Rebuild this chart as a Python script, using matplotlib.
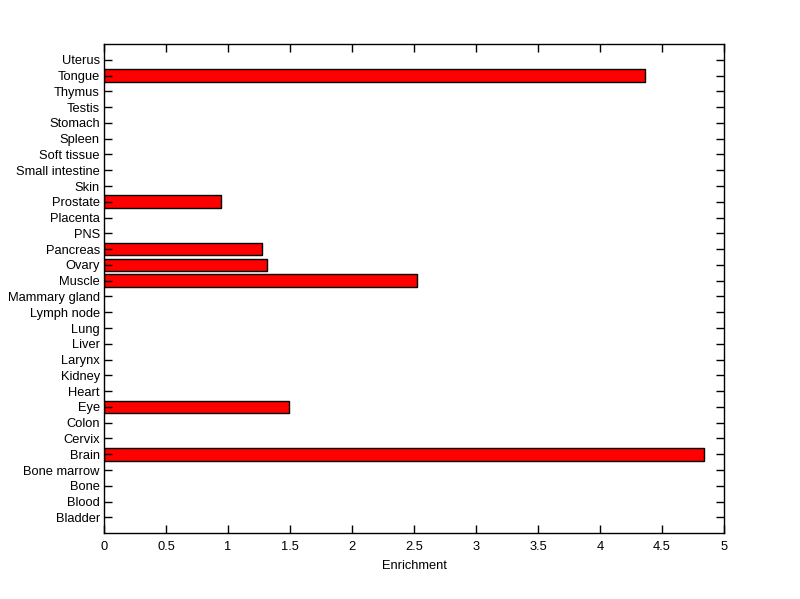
import matplotlib
matplotlib.use('Agg')
import matplotlib.pyplot as plt

tissues = ['Bladder', 'Blood', 'Bone', 'Bone marrow', 'Brain', 'Cervix', 'Colon',
           'Eye', 'Heart', 'Kidney', 'Larynx', 'Liver', 'Lung', 'Lymph node',
           'Mammary gland', 'Muscle', 'Ovary', 'Pancreas', 'PNS', 'Placenta',
           'Prostate', 'Skin', 'Small intestine', 'Soft tissue', 'Spleen',
           'Stomach', 'Testis', 'Thymus', 'Tongue', 'Uterus']
enrichment = [0, 0, 0, 0, 4.84, 0, 0,
              1.495, 0, 0, 0, 0, 0, 0,
              0, 2.527, 1.318, 1.277, 0, 0,
              0.947, 0, 0, 0, 0,
              0, 0, 0, 4.366, 0]
xticks = [0, 0.5, 1, 1.5, 2, 2.5, 3, 3.5, 4, 4.5, 5]

plt.rcParams['font.family'] = ['Liberation Sans', 'DejaVu Sans']
plt.rcParams['font.size'] = 9.3

fig = plt.figure(figsize=(8, 5.99), dpi=100)
ax = fig.add_axes([0.13, 0.11, 0.775, 0.8165])

pos = list(range(1, len(tissues) + 1))
# only draw nonzero bars (matlab draws nothing visible for 0)
for p, v in zip(pos, enrichment):
    if v > 0:
        ax.barh(p, v, height=0.8, color='#ff0000', edgecolor='black', linewidth=1)

ax.set_xlim(0, 5)
ax.set_ylim(0, 31)
ax.set_yticks(pos)
ax.set_yticklabels(tissues)
ax.set_xticks(xticks)
ax.set_xticklabels(['%g' % t for t in xticks])
ax.set_xlabel('Enrichment', labelpad=5)

ax.tick_params(direction='in', length=6, width=1, top=True, right=True, pad=3)
ax.tick_params(axis='x', pad=6)
for s in ax.spines.values():
    s.set_linewidth(1)

fig.savefig('out.png', dpi=100)
